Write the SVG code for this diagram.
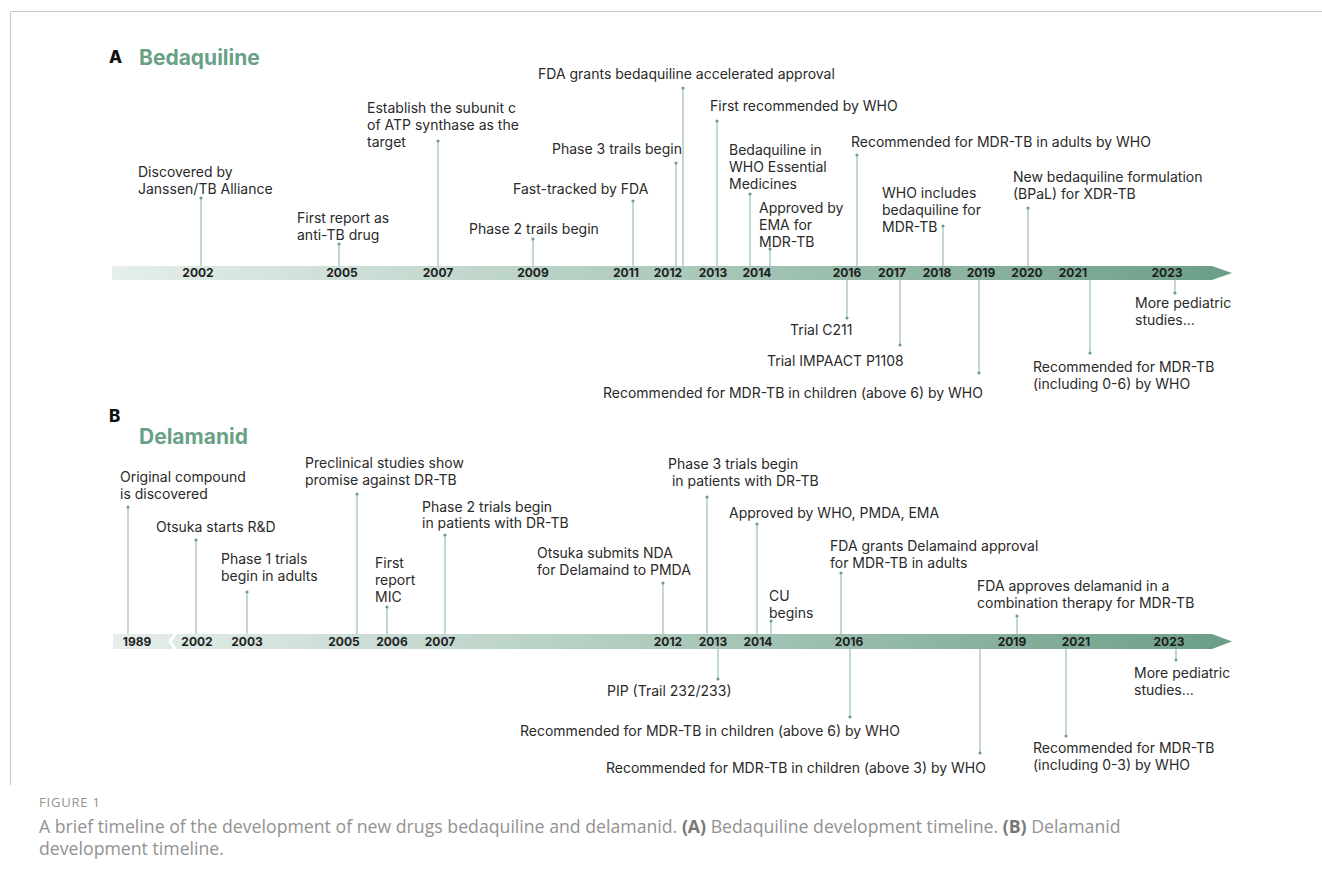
<svg xmlns="http://www.w3.org/2000/svg" width="1322" height="881" viewBox="0 0 1322 881">
<defs>
<linearGradient id="barA" x1="112" y1="0" x2="1232" y2="0" gradientUnits="userSpaceOnUse">
<stop offset="0" stop-color="#e5eeea"/>
<stop offset="0.5" stop-color="#adcabc"/>
<stop offset="1" stop-color="#6b9e86"/>
</linearGradient>
<linearGradient id="barB" x1="112" y1="0" x2="1232" y2="0" gradientUnits="userSpaceOnUse">
<stop offset="0" stop-color="#e5eeea"/>
<stop offset="0.5" stop-color="#adcabc"/>
<stop offset="1" stop-color="#6b9e86"/>
</linearGradient>
</defs>
<style>
.t{font-family:Inter,"Liberation Sans",sans-serif;font-size:14px;fill:#2a2a2a}
.y{font-family:Inter,"Liberation Sans",sans-serif;font-size:12px;font-weight:700;fill:#1e1e1e;text-anchor:middle}
.h{font-family:Inter,"Liberation Sans",sans-serif;font-size:21px;font-weight:700;fill:#6aa186}
.p{font-family:Inter,"Liberation Sans",sans-serif;font-size:17px;font-weight:800;fill:#111}
.c{font-family:"Open Sans","Noto Sans",sans-serif;fill:#929292}
.l{stroke:#9dbfb0;stroke-width:1.2;fill:none}
.d{fill:#6f9f89}
</style>
<path d="M10.5 785 V11.5 H1322" fill="none" stroke="#c8c8c8" stroke-width="1"/>

<g id="panelA-title">
<text class="p" x="109" y="63">A</text>
<text class="h" x="139" y="65">Bedaquiline</text>
</g>
<g id="barA-axis">
<polygon points="112,266 1212,266 1232,273 1212,280 112,280" fill="url(#barA)"/>
<text class="y" x="198" y="277">2002</text>
<text class="y" x="342" y="277">2005</text>
<text class="y" x="438" y="277">2007</text>
<text class="y" x="533" y="277">2009</text>
<text class="y" x="626" y="277">2011</text>
<text class="y" x="668" y="277">2012</text>
<text class="y" x="713" y="277">2013</text>
<text class="y" x="757" y="277">2014</text>
<text class="y" x="847" y="277">2016</text>
<text class="y" x="892" y="277">2017</text>
<text class="y" x="937" y="277">2018</text>
<text class="y" x="981" y="277">2019</text>
<text class="y" x="1027" y="277">2020</text>
<text class="y" x="1073" y="277">2021</text>
<text class="y" x="1167" y="277">2023</text>
</g>

<g id="connectors">
<line class="l" x1="201" y1="198" x2="201" y2="266"/>
<line class="l" x1="339" y1="244" x2="339" y2="266"/>
<line class="l" x1="438" y1="141" x2="438" y2="266"/>
<line class="l" x1="533" y1="239" x2="533" y2="266"/>
<line class="l" x1="633" y1="201" x2="633" y2="266"/>
<line class="l" x1="676" y1="163" x2="676" y2="266"/>
<line class="l" x1="683" y1="88" x2="683" y2="266"/>
<line class="l" x1="717" y1="121" x2="717" y2="266"/>
<line class="l" x1="750" y1="194" x2="750" y2="266"/>
<line class="l" x1="770" y1="249" x2="770" y2="266"/>
<line class="l" x1="857" y1="155" x2="857" y2="266"/>
<line class="l" x1="943" y1="226" x2="943" y2="266"/>
<line class="l" x1="1028" y1="208" x2="1028" y2="266"/>
<line class="l" x1="847" y1="280" x2="847" y2="318"/>
<line class="l" x1="900" y1="280" x2="900" y2="345"/>
<line class="l" x1="979" y1="280" x2="979" y2="373"/>
<line class="l" x1="1090" y1="280" x2="1090" y2="353"/>
<line class="l" x1="1175" y1="280" x2="1175" y2="293"/>

<line class="l" x1="128" y1="507" x2="128" y2="634"/>
<line class="l" x1="196" y1="540" x2="196" y2="634"/>
<line class="l" x1="247" y1="592" x2="247" y2="634"/>
<line class="l" x1="357" y1="494" x2="357" y2="634"/>
<line class="l" x1="387" y1="607" x2="387" y2="634"/>
<line class="l" x1="445" y1="535" x2="445" y2="634"/>
<line class="l" x1="663" y1="583" x2="663" y2="634"/>
<line class="l" x1="707" y1="497" x2="707" y2="634"/>
<line class="l" x1="757" y1="524" x2="757" y2="634"/>
<line class="l" x1="771" y1="621" x2="771" y2="634"/>
<line class="l" x1="841" y1="573" x2="841" y2="634"/>
<line class="l" x1="1017" y1="616" x2="1017" y2="634"/>
<line class="l" x1="718" y1="649" x2="718" y2="679"/>
<line class="l" x1="850" y1="649" x2="850" y2="717"/>
<line class="l" x1="980" y1="649" x2="980" y2="753"/>
<line class="l" x1="1066" y1="649" x2="1066" y2="736"/>
<line class="l" x1="1176" y1="649" x2="1176" y2="660"/>
</g>

<g id="a-2002"><circle class="d" cx="201" cy="198" r="1.6"/><text class="t" x="138" y="177">Discovered by</text><text class="t" x="138" y="194">Janssen/TB Alliance</text></g>
<g id="a-2005"><circle class="d" cx="339" cy="244" r="1.6"/><text class="t" x="297" y="223">First report as</text><text class="t" x="297" y="240">anti-TB drug</text></g>
<g id="a-2007"><circle class="d" cx="438" cy="141" r="1.6"/><text class="t" x="367" y="113">Establish the subunit c</text><text class="t" x="367" y="130">of ATP synthase as the</text><text class="t" x="367" y="147">target</text></g>
<g id="a-2009"><circle class="d" cx="533" cy="239" r="1.6"/><text class="t" x="469" y="234">Phase 2 trails begin</text></g>
<g id="a-2011"><circle class="d" cx="633" cy="201" r="1.6"/><text class="t" x="513" y="194">Fast-tracked by FDA</text></g>
<g id="a-2012-p3"><circle class="d" cx="676" cy="163" r="1.6"/><text class="t" x="552" y="154">Phase 3 trails begin</text></g>
<g id="a-2012-fda"><circle class="d" cx="683" cy="88" r="1.6"/><text class="t" x="538" y="79">FDA grants bedaquiline accelerated approval</text></g>
<g id="a-2013"><circle class="d" cx="717" cy="121" r="1.6"/><text class="t" x="710" y="111">First recommended by WHO</text></g>
<g id="a-2014-eml"><circle class="d" cx="750" cy="194" r="1.6"/><text class="t" x="729" y="155">Bedaquiline in</text><text class="t" x="729" y="172">WHO Essential</text><text class="t" x="729" y="189">Medicines</text></g>
<g id="a-2014-ema"><circle class="d" cx="770" cy="249" r="1.6"/><text class="t" x="759" y="213">Approved by</text><text class="t" x="759" y="230">EMA for</text><text class="t" x="759" y="247">MDR-TB</text></g>
<g id="a-2016"><circle class="d" cx="857" cy="155" r="1.6"/><text class="t" x="851" y="147">Recommended for MDR-TB in adults by WHO</text></g>
<g id="a-2018"><circle class="d" cx="943" cy="226" r="1.6"/><text class="t" x="882" y="198">WHO includes</text><text class="t" x="882" y="215">bedaquiline for</text><text class="t" x="882" y="232">MDR-TB</text></g>
<g id="a-2020"><circle class="d" cx="1028" cy="208" r="1.6"/><text class="t" x="1013" y="182">New bedaquiline formulation</text><text class="t" x="1013" y="199">(BPaL) for XDR-TB</text></g>
<g id="a-2016-c211"><circle class="d" cx="847" cy="318" r="1.6"/><text class="t" x="790" y="335">Trial C211</text></g>
<g id="a-2017"><circle class="d" cx="900" cy="345" r="1.6"/><text class="t" x="767" y="366">Trial IMPAACT P1108</text></g>
<g id="a-2019"><circle class="d" cx="979" cy="373" r="1.6"/><text class="t" x="603" y="398">Recommended for MDR-TB in children (above 6) by WHO</text></g>
<g id="a-2021"><circle class="d" cx="1090" cy="353" r="1.6"/><text class="t" x="1033" y="372">Recommended for MDR-TB</text><text class="t" x="1033" y="389">(including 0-6) by WHO</text></g>
<g id="a-2023"><circle class="d" cx="1175" cy="293" r="1.6"/><text class="t" x="1135" y="308">More pediatric</text><text class="t" x="1135" y="325">studies...</text></g>

<g id="panelB-title">
<text class="p" x="109" y="422">B</text>
<text class="h" x="139" y="444">Delamanid</text>
</g>
<g id="barB-axis">
<polygon points="113,634 1212,634 1232,641.5 1212,649 113,649" fill="url(#barB)"/>
<polyline points="176,633 170,641.5 176,650" fill="none" stroke="#fff" stroke-width="3"/>
<text class="y" x="137" y="646">1989</text>
<text class="y" x="197" y="646">2002</text>
<text class="y" x="247" y="646">2003</text>
<text class="y" x="344" y="646">2005</text>
<text class="y" x="392" y="646">2006</text>
<text class="y" x="440" y="646">2007</text>
<text class="y" x="668" y="646">2012</text>
<text class="y" x="713" y="646">2013</text>
<text class="y" x="758" y="646">2014</text>
<text class="y" x="849" y="646">2016</text>
<text class="y" x="1012" y="646">2019</text>
<text class="y" x="1076" y="646">2021</text>
<text class="y" x="1169" y="646">2023</text>
</g>

<g id="b-1989"><circle class="d" cx="128" cy="507" r="1.6"/><text class="t" x="120" y="482">Original compound</text><text class="t" x="120" y="499">is discovered</text></g>
<g id="b-2002"><circle class="d" cx="196" cy="540" r="1.6"/><text class="t" x="156" y="532">Otsuka starts R&amp;D</text></g>
<g id="b-2003"><circle class="d" cx="247" cy="592" r="1.6"/><text class="t" x="221" y="564">Phase 1 trials</text><text class="t" x="221" y="581">begin in adults</text></g>
<g id="b-2005"><circle class="d" cx="357" cy="494" r="1.6"/><text class="t" x="305" y="468">Preclinical studies show</text><text class="t" x="305" y="485">promise against DR-TB</text></g>
<g id="b-2006"><circle class="d" cx="387" cy="607" r="1.6"/><text class="t" x="375" y="568">First</text><text class="t" x="375" y="585">report</text><text class="t" x="375" y="602">MIC</text></g>
<g id="b-2007"><circle class="d" cx="445" cy="535" r="1.6"/><text class="t" x="422" y="512">Phase 2 trials begin</text><text class="t" x="422" y="528">in patients with DR-TB</text></g>
<g id="b-2012"><circle class="d" cx="663" cy="583" r="1.6"/><text class="t" x="537" y="558">Otsuka submits NDA</text><text class="t" x="537" y="575">for Delamaind to PMDA</text></g>
<g id="b-2013"><circle class="d" cx="707" cy="497" r="1.6"/><text class="t" x="668" y="469">Phase 3 trials begin</text><text class="t" x="668" y="486" xml:space="preserve"> in patients with DR-TB</text></g>
<g id="b-2014-app"><circle class="d" cx="757" cy="524" r="1.6"/><text class="t" x="729" y="518">Approved by WHO, PMDA, EMA</text></g>
<g id="b-2014-cu"><circle class="d" cx="771" cy="621" r="1.6"/><text class="t" x="769" y="601">CU</text><text class="t" x="769" y="618">begins</text></g>
<g id="b-2016"><circle class="d" cx="841" cy="573" r="1.6"/><text class="t" x="830" y="551">FDA grants Delamaind approval</text><text class="t" x="830" y="568">for MDR-TB in adults</text></g>
<g id="b-2019"><circle class="d" cx="1017" cy="616" r="1.6"/><text class="t" x="977" y="591">FDA approves delamanid in a</text><text class="t" x="977" y="608">combination therapy for MDR-TB</text></g>
<g id="b-2013-pip"><circle class="d" cx="718" cy="679" r="1.6"/><text class="t" x="607" y="696">PIP (Trail 232/233)</text></g>
<g id="b-2016-ch6"><circle class="d" cx="850" cy="717" r="1.6"/><text class="t" x="520" y="736">Recommended for MDR-TB in children (above 6) by WHO</text></g>
<g id="b-2019-ch3"><circle class="d" cx="980" cy="753" r="1.6"/><text class="t" x="606" y="773">Recommended for MDR-TB in children (above 3) by WHO</text></g>
<g id="b-2021"><circle class="d" cx="1066" cy="736" r="1.6"/><text class="t" x="1033" y="753">Recommended for MDR-TB</text><text class="t" x="1033" y="770">(including 0-3) by WHO</text></g>
<g id="b-2023"><circle class="d" cx="1176" cy="660" r="1.6"/><text class="t" x="1134" y="678">More pediatric</text><text class="t" x="1134" y="695">studies...</text></g>

<g id="caption">
<text class="c" x="39" y="807" font-size="13" letter-spacing="0.8">FIGURE 1</text>
<text class="c" x="39" y="833" font-size="17.7">A brief timeline of the development of new drugs bedaquiline and delamanid. <tspan font-weight="700" fill="#777">(A)</tspan> Bedaquiline development timeline. <tspan font-weight="700" fill="#777">(B)</tspan> Delamanid</text>
<text class="c" x="39" y="855" font-size="17.7">development timeline.</text>
</g>
</svg>
